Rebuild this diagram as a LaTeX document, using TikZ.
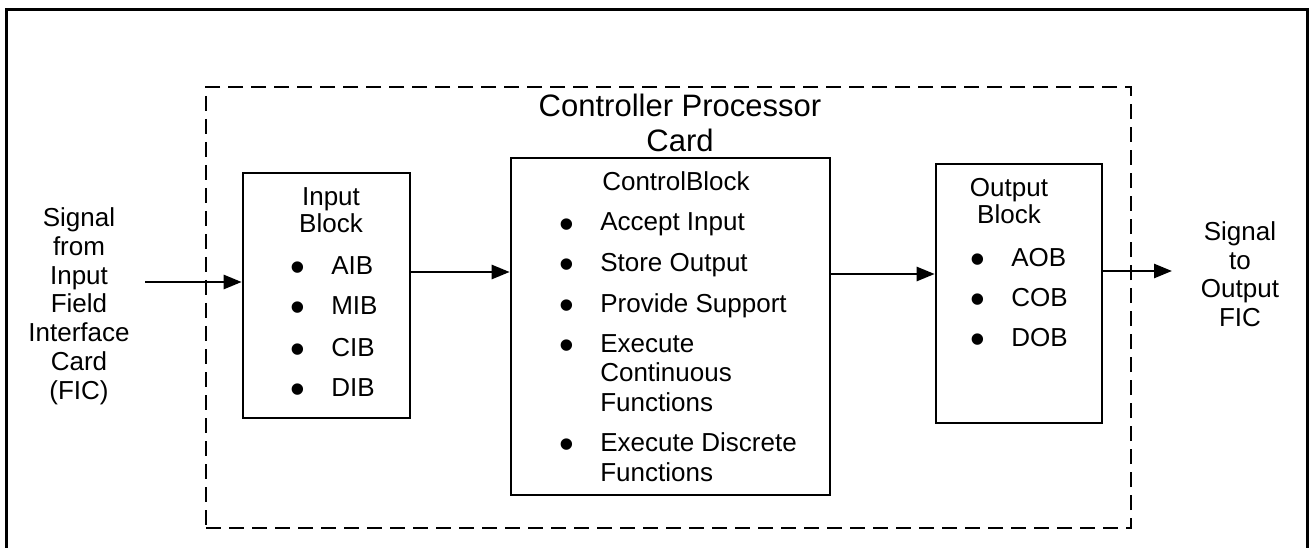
\documentclass[tikz,border=0pt]{standalone}
\usepackage{fontspec}
\setmainfont{Liberation Sans}
\usetikzlibrary{arrows.meta}

\tikzset{
  every picture/.style={line width=2.6pt},
  blockbox/.style={draw, rectangle, inner sep=0pt},
  lbl/.style={inner sep=0pt, font=\fontsize{26}{28.7}\selectfont},
  dot/.style={inner sep=0pt, font=\fontsize{42}{42}\selectfont},
  flow/.style={-{Triangle[length=18pt,width=14pt]}},
}

\begin{document}
\begin{tikzpicture}[x=1pt,y=-1pt]
  \useasboundingbox (0,0) rectangle (1312,548);

  % --- cadre exterieur (ouvert en bas) ---
  \draw[line width=3pt] (6,548) -- (6,10) -- (1307,10) -- (1307,548);

  % --- carte du controleur ---
  \node[blockbox, dash pattern=on 15pt off 8pt,
        minimum width=925, minimum height=441] (card) at (668.5,307.5) {};
  % (anchor base = ligne de base de la derniere ligne)
  \node[lbl, font=\fontsize{31}{35}\selectfont, align=center, anchor=base]
    (cardtitle) at (680,152) {Controller Processor\\Card};

  % --- blocs ---
  \node[blockbox, minimum width=167, minimum height=245] (inblk) at (326.5,295.5) {};
  \node[blockbox, minimum width=319, minimum height=337] (ctrlblk) at (670.5,326.5) {};
  \node[blockbox, minimum width=166, minimum height=259] (outblk) at (1019,293.5) {};

  \node[lbl, font=\fontsize{26}{27}\selectfont, align=center, anchor=base]
    (intitle) at (331,233) {Input\\Block};
  \node[lbl, anchor=base] (ctrltitle) at (676,191) {ControlBlock};
  \node[lbl, font=\fontsize{26}{28}\selectfont, align=center, anchor=base]
    (outtitle) at (1009,224) {Output\\Block};

  \foreach \y/\t [count=\i] in {274/AIB, 314/MIB, 356/CIB, 396/DIB} {
    \node[dot] (inbul\i) at (298,\y-2) {•};
    \node[lbl, anchor=base west] (initem\i) at (330,\y) {\t};
  }
  \foreach \y/\b/\t [count=\i] in {231/231/Accept Input, 271/271/Store Output,
                                   312/312/Provide Support,
                                   411/352/{Execute\\Continuous\\Functions},
                                   481/451/{Execute Discrete\\Functions}} {
    \node[dot] (ctrlbul\i) at (567,\b-2) {•};
    \node[lbl, font=\fontsize{26}{29.5}\selectfont, align=left, anchor=base west]
      (ctrlitem\i) at (599,\y) {\t};
  }
  \foreach \y/\t [count=\i] in {266/AOB, 306/COB, 346/DOB} {
    \node[dot] (outbul\i) at (978,\y-2) {•};
    \node[lbl, anchor=base west] (outitem\i) at (1010,\y) {\t};
  }

  % --- signaux ---
  \node[lbl, align=center, anchor=base] (sigin) at (79,399)
    {Signal\\from\\Input\\Field\\Interface\\Card\\(FIC)};
  \node[lbl, font=\fontsize{26}{28.5}\selectfont, align=center, anchor=base]
    (sigout) at (1240,326) {Signal\\to\\Output\\FIC};

  \coordinate (sigsrc) at (145,282);
  \coordinate (lvla) at (0,272);
  \coordinate (lvlb) at (0,274);
  \coordinate (sigdst) at (1172,271);
  \draw[flow] (sigsrc) -- (sigsrc -| inblk.west);
  \draw[flow] (lvla -| inblk.east) -- (lvla -| ctrlblk.west);
  \draw[flow] (lvlb -| ctrlblk.east) -- (lvlb -| outblk.west);
  \draw[flow] (sigdst -| outblk.east) -- (sigdst);
\end{tikzpicture}
\end{document}
